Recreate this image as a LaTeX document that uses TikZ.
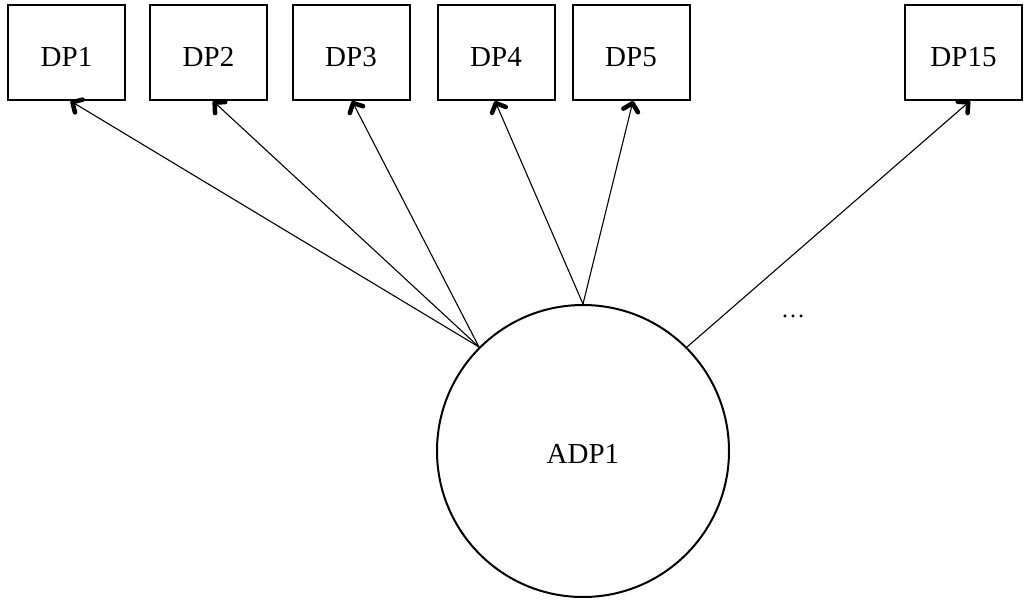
\documentclass[tikz,border=0pt]{standalone}
\usepackage{fontspec}
\setmainfont{Liberation Serif}
\usetikzlibrary{arrows.meta}
\begin{document}
\begin{tikzpicture}[x=1pt,y=-1pt,
  dpbox/.style={draw, line width=2pt, minimum width=117pt, minimum height=95pt,
    inner sep=0pt, text height=28pt, text depth=0pt, font=\fontsize{29}{32}\selectfont},
  latent/.style={draw, circle, line width=2pt, minimum size=292pt, inner sep=0pt,
    text height=25pt, text depth=0pt, font=\fontsize{29}{32}\selectfont},
  link/.style={line width=1.1pt,
    -{Straight Barb[length=7.5pt,width=15pt,line width=4.5pt,round]}}]
  \useasboundingbox (0,0) rectangle (1031,602);
  % indicator boxes
  \node[dpbox] (dp1)  at (66.5,52.5)  {DP1};
  \node[dpbox] (dp2)  at (208.5,52.5) {DP2};
  \node[dpbox] (dp3)  at (351,52.5)   {DP3};
  \node[dpbox] (dp4)  at (496,52.5)   {DP4};
  \node[dpbox] (dp5)  at (631,52.5)   {DP5};
  \node[dpbox] (dp15) at (963.5,52.5) {DP15};
  % latent factor
  \node[latent] (adp) at (583,451) {ADP1};
  \node (dots) at (793,316) {\fontsize{24}{26}\selectfont\ldots};
  % loadings
  \draw[link] (adp.135) -- ([xshift=4pt]dp1.south);
  \draw[link] (adp.135) -- ([xshift=4.5pt]dp2.south);
  \draw[link] (adp.135) -- ([xshift=1pt]dp3.south);
  \draw[link] (adp.90)  -- ([xshift=-1pt]dp4.south);
  \draw[link] (adp.90)  -- ([xshift=2pt]dp5.south);
  \draw[link] (adp.45)  -- ([xshift=6.5pt]dp15.south);
\end{tikzpicture}
\end{document}
